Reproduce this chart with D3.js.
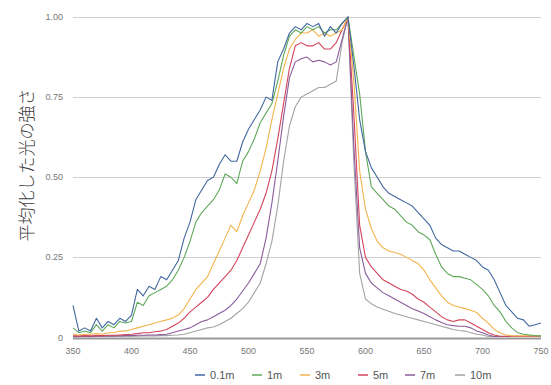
<!DOCTYPE html>
<html>
<head>
<meta charset="utf-8">
<script src="https://cdn.jsdelivr.net/npm/d3@7"></script>
<style>
  body { margin: 0; background: #fff; }
  svg { display: block; font-family: "Liberation Sans", Arial, sans-serif; }
</style>
</head>
<body>
<div id="chart"></div>
<script>
// wavelength grid (nm), 5nm step
var wavelengths = d3.range(350, 751, 5);

var depths = ['0.1m', '1m', '3m', '5m', '7m', '10m'];
var colors = ['#41689f', '#5fa85a', '#f3b44c', '#d3455c', '#8b5c9c', '#a3a3a3'];

var s01 = [0.10, 0.02, 0.03, 0.02, 0.06, 0.03, 0.05, 0.04, 0.06, 0.05,
  0.07, 0.15, 0.13, 0.16, 0.15, 0.19, 0.18, 0.21, 0.24, 0.31,
  0.36, 0.43, 0.46, 0.49, 0.50, 0.54, 0.57, 0.55, 0.55, 0.61,
  0.65, 0.68, 0.71, 0.75, 0.74, 0.86, 0.90, 0.95, 0.97, 0.96,
  0.98, 0.97, 0.98, 0.94, 0.97, 0.95, 0.98, 1.00, 0.85, 0.68,
  0.58, 0.53, 0.50, 0.47, 0.45, 0.44, 0.43, 0.42, 0.41, 0.39,
  0.37, 0.35, 0.31, 0.29, 0.28, 0.27, 0.27, 0.26, 0.25, 0.24,
  0.22, 0.21, 0.18, 0.14, 0.10, 0.08, 0.06, 0.055, 0.035, 0.04, 0.045];

var s1 = [0.03, 0.015, 0.02, 0.015, 0.04, 0.02, 0.04, 0.03, 0.05, 0.045,
  0.05, 0.11, 0.10, 0.13, 0.14, 0.15, 0.16, 0.18, 0.21, 0.25,
  0.30, 0.36, 0.39, 0.41, 0.43, 0.46, 0.51, 0.50, 0.48, 0.55,
  0.58, 0.62, 0.67, 0.70, 0.73, 0.80, 0.88, 0.94, 0.96, 0.95,
  0.97, 0.96, 0.97, 0.95, 0.96, 0.96, 0.98, 1.00, 0.88, 0.76,
  0.58, 0.47, 0.45, 0.43, 0.41, 0.40, 0.38, 0.36, 0.35, 0.33,
  0.32, 0.305, 0.26, 0.22, 0.20, 0.19, 0.19, 0.185, 0.18, 0.165,
  0.15, 0.13, 0.10, 0.08, 0.05, 0.03, 0.015, 0.01, 0.008, 0.006, 0.005];

var s3 = [0.01, 0.008, 0.01, 0.01, 0.012, 0.01, 0.015, 0.015, 0.02, 0.02,
  0.025, 0.03, 0.035, 0.04, 0.045, 0.05, 0.055, 0.06, 0.07, 0.09,
  0.12, 0.15, 0.17, 0.19, 0.23, 0.27, 0.31, 0.35, 0.33, 0.38,
  0.42, 0.46, 0.52, 0.59, 0.68, 0.76, 0.84, 0.90, 0.93, 0.95,
  0.95, 0.96, 0.94, 0.95, 0.94, 0.95, 0.96, 1.00, 0.80, 0.52,
  0.40, 0.34, 0.30, 0.28, 0.27, 0.265, 0.26, 0.25, 0.24, 0.23,
  0.21, 0.18, 0.155, 0.13, 0.11, 0.10, 0.095, 0.09, 0.085, 0.078,
  0.06, 0.045, 0.025, 0.015, 0.008, 0.005, 0.005, 0.005, 0.005, 0.005, 0.005];

var s5 = [0.005, 0.005, 0.006, 0.005, 0.006, 0.006, 0.007, 0.007, 0.008, 0.009,
  0.01, 0.012, 0.015, 0.015, 0.018, 0.02, 0.025, 0.035, 0.045, 0.06,
  0.08, 0.095, 0.11, 0.125, 0.15, 0.17, 0.19, 0.21, 0.24, 0.28,
  0.32, 0.36, 0.40, 0.45, 0.52, 0.62, 0.73, 0.84, 0.91, 0.92,
  0.91, 0.91, 0.92, 0.90, 0.90, 0.92, 0.96, 1.00, 0.70, 0.35,
  0.25, 0.22, 0.20, 0.18, 0.17, 0.16, 0.15, 0.145, 0.135, 0.12,
  0.11, 0.095, 0.08, 0.065, 0.055, 0.05, 0.055, 0.055, 0.045, 0.035,
  0.025, 0.015, 0.008, 0.004, 0.004, 0.004, 0.004, 0.004, 0.004, 0.004, 0.004];

var s7 = [0.003, 0.003, 0.004, 0.003, 0.004, 0.004, 0.005, 0.005, 0.005, 0.006,
  0.006, 0.007, 0.007, 0.008, 0.008, 0.009, 0.01, 0.015, 0.02, 0.025,
  0.03, 0.04, 0.05, 0.055, 0.065, 0.075, 0.085, 0.10, 0.12, 0.145,
  0.17, 0.20, 0.23, 0.31, 0.42, 0.55, 0.69, 0.81, 0.86, 0.87,
  0.875, 0.86, 0.865, 0.86, 0.85, 0.86, 0.93, 1.00, 0.60, 0.28,
  0.20, 0.17, 0.155, 0.14, 0.13, 0.12, 0.11, 0.10, 0.09, 0.083,
  0.075, 0.065, 0.055, 0.047, 0.04, 0.037, 0.035, 0.035, 0.03, 0.02,
  0.015, 0.008, 0.003, 0.003, 0.003, 0.003, 0.003, 0.003, 0.003, 0.003, 0.003];

var s10 = [0.002, 0.002, 0.003, 0.002, 0.003, 0.003, 0.003, 0.003, 0.004, 0.004,
  0.004, 0.004, 0.005, 0.005, 0.005, 0.006, 0.006, 0.007, 0.008, 0.01,
  0.015, 0.02, 0.025, 0.03, 0.033, 0.04, 0.05, 0.06, 0.075, 0.09,
  0.11, 0.14, 0.17, 0.23, 0.30, 0.41, 0.55, 0.66, 0.72, 0.75,
  0.76, 0.77, 0.78, 0.78, 0.79, 0.80, 0.92, 1.00, 0.55, 0.20,
  0.12, 0.105, 0.095, 0.088, 0.082, 0.075, 0.07, 0.065, 0.06, 0.055,
  0.05, 0.045, 0.04, 0.035, 0.03, 0.025, 0.022, 0.02, 0.015, 0.01,
  0.008, 0.003, 0.003, 0.003, 0.003, 0.003, 0.003, 0.003, 0.003, 0.003, 0.003];

var series = [s01, s1, s3, s5, s7, s10];
var xTicks = [350, 400, 450, 500, 550, 600, 650, 700, 750];
var yTicks = [0, 0.25, 0.5, 0.75, 1];
var yTitle = '平均化した光の強さ';

var width = 551, height = 385;
var margin = {top: 17, right: 10, bottom: 47, left: 73};

var svg = d3.select('#chart').append('svg')
  .attr('width', width).attr('height', height);

var x = d3.scaleLinear()
  .domain([350, 750])
  .range([margin.left, 541]);

var y = d3.scaleLinear()
  .domain([0, 1])
  .range([height - margin.bottom - 0.5, margin.top]);

// gridlines
svg.append('g')
  .selectAll('line')
  .data(yTicks.filter(d => d > 0))
  .join('line')
  .attr('x1', x(350)).attr('x2', x(750))
  .attr('y1', d => Math.round(y(d)) + 0.5).attr('y2', d => Math.round(y(d)) + 0.5)
  .attr('stroke', '#cfcfcf')
  .attr('stroke-width', 1);

// y tick labels
svg.append('g')
  .selectAll('text')
  .data(yTicks)
  .join('text')
  .attr('x', 63)
  .attr('y', d => y(d) + 3)
  .attr('text-anchor', 'end')
  .attr('fill', '#777')
  .style('font-size', '9px')
  .text(d => d === 0 ? '0' : d3.format('.2f')(d));

// x tick labels
svg.append('g')
  .selectAll('text')
  .data(xTicks)
  .join('text')
  .attr('x', d => x(d))
  .attr('y', 354)
  .attr('text-anchor', 'middle')
  .attr('fill', '#777')
  .style('font-size', '9px')
  .text(d => d);

// y title
svg.append('text')
  .attr('transform', 'translate(33,165) rotate(-90)')
  .attr('text-anchor', 'middle')
  .attr('fill', '#3a3a3a')
  .style('font-family', '"Noto Sans CJK JP", sans-serif')
  .style('font-size', '17px')
  .style('font-weight', 300)
  .text(yTitle);

var line = d3.line()
  .x((d, i) => x(wavelengths[i]))
  .y(d => y(d));

var lines = svg.append('g')
  .attr('fill', 'none')
  .attr('stroke-linejoin', 'round')
  .attr('stroke-width', 1.1);

for (var i = series.length - 1; i >= 0; i--) {
  lines.append('path')
    .datum(series[i])
    .attr('stroke', colors[i])
    .attr('d', line);
}

// baseline
svg.append('line')
  .attr('x1', x(350)).attr('x2', x(750))
  .attr('y1', y(0) + 1).attr('y2', y(0) + 1)
  .attr('stroke', '#9a9a9a')
  .attr('stroke-width', 2);

// legend
var legendX = [195, 252, 300, 358, 405, 455];
var legend = svg.append('g')
  .selectAll('g')
  .data(depths)
  .join('g')
  .attr('transform', (d, i) => `translate(${legendX[i]},375)`);

legend.append('line')
  .attr('x1', 0).attr('x2', 10)
  .attr('stroke', (d, i) => colors[i])
  .attr('stroke-width', 1.5);

legend.append('text')
  .attr('x', 15)
  .attr('y', 4)
  .attr('fill', '#555')
  .style('font-size', '11px')
  .text(d => d);
</script>
</body>
</html>
